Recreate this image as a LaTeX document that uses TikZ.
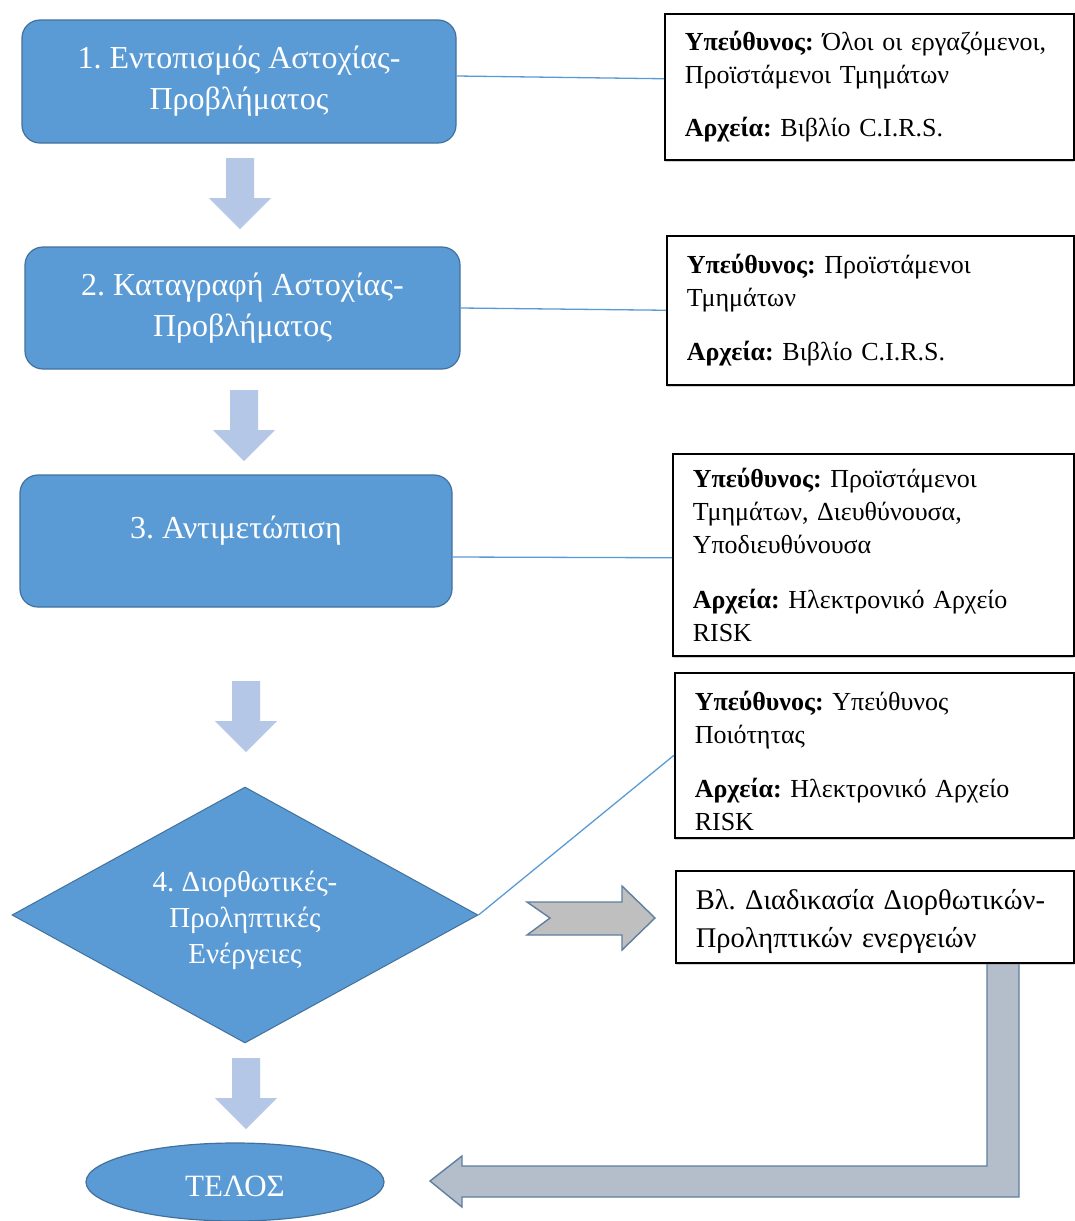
\documentclass[tikz,border=0pt]{standalone}
\usepackage{fontspec}
\setmainfont{Liberation Serif}
\usetikzlibrary{shapes.geometric,shadows}
\definecolor{bfill}{HTML}{5B9BD5}
\definecolor{bdraw}{HTML}{41719C}
\definecolor{adraw}{HTML}{5F7FA0}
\definecolor{afill}{HTML}{B4C7E7}
\definecolor{gfill}{HTML}{BFBFBF}
\definecolor{bgfill}{HTML}{B3BECA}
\frenchspacing
\begin{document}
\begin{tikzpicture}[x=1pt,y=-1pt,
  bluebox/.style={draw=bdraw, line width=1.2pt, fill=bfill, rounded corners=18pt, text=white,
    font=\fontsize{32}{41}\selectfont, align=center, inner sep=0pt},
  whitetext/.style={text=white, align=center, inner sep=0pt},
  infobox/.style={draw=black, line width=1.5pt, fill=white, align=left, inner xsep=20pt,
    inner ysep=0pt, font=\fontsize{26}{33}\selectfont, anchor=north west,
    drop shadow={shadow xshift=0.5pt, shadow yshift=-1.8pt, opacity=0.35, fill=gray}},
  link/.style={draw=bfill, line width=1.3pt},
  downarr/.pic={\fill[afill] (-14,0) -- (14,0) -- (14,40) -- (31,40) -- (0,71) -- (-31,40) -- (-14,40) -- cycle;}
  ]
\useasboundingbox (0,0) rectangle (1074,1221);
\fill[white] (0,0) rectangle (1074,1221);

% left column
\node[bluebox, minimum width=434pt, minimum height=123pt] (b1) at (239,81.5) {1. Εντοπισμός Αστοχίας-\\Προβλήματος};
\node[bluebox, minimum width=435pt, minimum height=122pt] (b2) at (242.5,308) {2. Καταγραφή Αστοχίας-\\Προβλήματος};
\node[bluebox, minimum width=432pt, minimum height=132pt] (b3) at (236,541) {};
\node[whitetext, font=\fontsize{32}{41}\selectfont] (b3t) at (236,531) {3. Αντιμετώπιση};
\node[diamond, draw=bdraw, line width=1pt, fill=bfill, inner sep=0pt,
  aspect=1.82, minimum width=466pt, minimum height=256pt] (d) at (245,915) {};
\node[whitetext, font=\fontsize{29}{36}\selectfont] (dt) at (245,920) {4. Διορθωτικές-\\Προληπτικές\\Ενέργειες};
\node[ellipse, draw=bdraw, line width=1.2pt, fill=bfill, inner sep=0pt,
  minimum width=298pt, minimum height=78pt] (e) at (235,1182) {};
\node[whitetext, font=\fontsize{31}{34}\selectfont] (et) at (235,1186) {ΤΕΛΟΣ};

\pic at (240,158) {downarr};
\pic at (244,390) {downarr};
\pic at (246,681) {downarr};
\pic at (246,1058) {downarr};

% bent arrow back to end
\filldraw[fill=bgfill, draw=adraw, line width=1.4pt]
  (987,955) -- (1019,955) -- (1019,1197) -- (462,1197) -- (462,1207) -- (430,1181)
  -- (462,1156) -- (462,1166) -- (987,1166) -- cycle;

% right column
\node[infobox, text width=369pt, minimum height=146pt] (r1) at (664,13)
  {\textbf{Υπεύθυνος:} Όλοι οι εργαζόμενοι,\\Προϊστάμενοι Τμημάτων\\[20pt]\textbf{Αρχεία:} Βιβλίο C.I.R.S.};
\node[infobox, text width=367pt, minimum height=149pt] (r2) at (666,235)
  {\textbf{Υπεύθυνος:} Προϊστάμενοι\\Τμημάτων\\[21pt]\textbf{Αρχεία:} Βιβλίο C.I.R.S.};
\node[infobox, text width=361pt, minimum height=202pt] (r3) at (672,453)
  {\textbf{Υπεύθυνος:} Προϊστάμενοι\\Τμημάτων, Διευθύνουσα,\\Υποδιευθύνουσα\\[22pt]\textbf{Αρχεία:} Ηλεκτρονικό Αρχείο\\RISK};
\node[infobox, text width=359pt, minimum height=165pt] (r4) at (674,672)
  {\rule{0pt}{30pt}\textbf{Υπεύθυνος:} Υπεύθυνος\\Ποιότητας\\[21pt]\textbf{Αρχεία:} Ηλεκτρονικό Αρχείο\\RISK};
\node[infobox, text width=358pt, minimum height=92pt, font=\fontsize{28.5}{38}\selectfont] (r5) at (675,870)
  {\rule{0pt}{29pt}Βλ. Διαδικασία Διορθωτικών-\\Προληπτικών ενεργειών};

% notched arrow
\filldraw[fill=gfill, draw=adraw, line width=1.4pt]
  (527,902) -- (622,902) -- (622,886) -- (655,918) -- (622,950) -- (622,935) -- (527,935) -- (550,918) -- cycle;

% connectors
\draw[link] ([yshift=5.5pt]b1.east) -- ([yshift=8pt]r1.west);
\draw[link] (b2.east) -- (r2.west);
\draw[link] ([yshift=-16pt]b3.east) -- ([yshift=-3pt]r3.west);
\draw[link] (d.east) -- (r4.west);
\end{tikzpicture}
\end{document}
